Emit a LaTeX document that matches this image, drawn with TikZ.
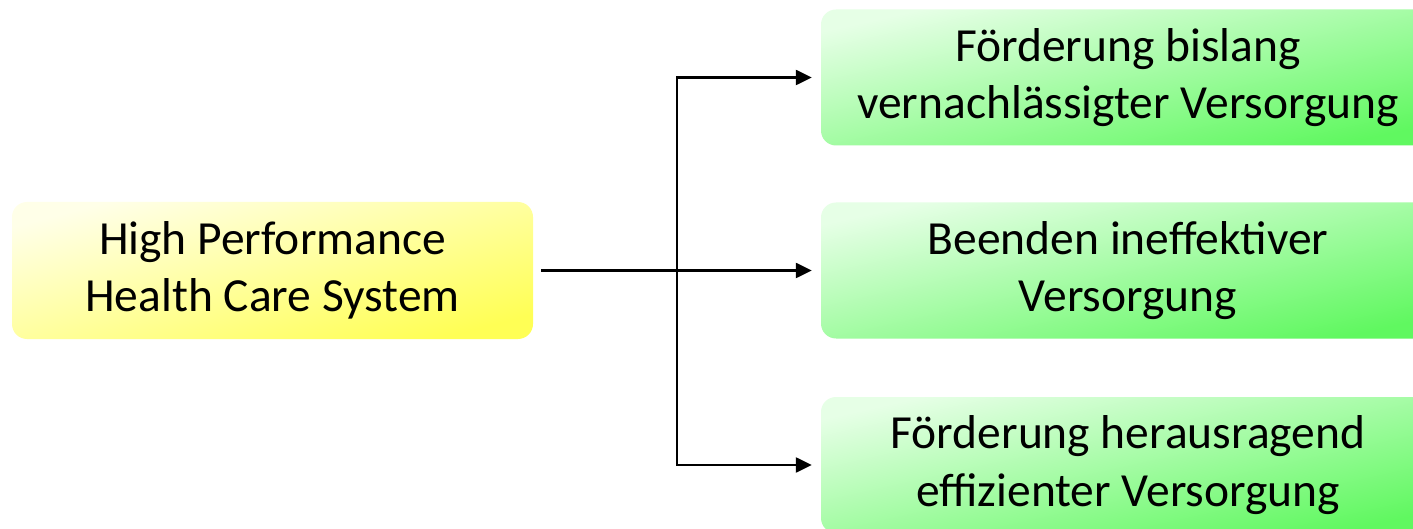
\documentclass[tikz,border=0pt]{standalone}
\usepackage{fontspec}
\setmainfont{Carlito}
\usetikzlibrary{arrows.meta}
\definecolor{ylight}{HTML}{FFFFE8}
\definecolor{ydark}{HTML}{FFFF55}
\definecolor{glight}{HTML}{E6FFE6}
\definecolor{gdark}{HTML}{60F860}
\tikzset{
  box/.style={rounded corners=15pt, inner sep=0pt, align=center,
    font=\fontsize{47.5}{57.5}\selectfont, shading=axis},
  ybox/.style={box, top color=ylight, bottom color=ydark, shading angle=14.7, minimum width=521pt, minimum height=137pt},
  gbox/.style={box, top color=glight, bottom color=gdark, shading angle=12.5, minimum width=614pt, minimum height=136pt},
  link/.style={line width=2.4pt},
  conn/.style={link, -{Triangle[length=16pt,width=15pt]}, shorten >=9pt},
}
\begin{document}
\begin{tikzpicture}[x=1pt,y=1pt]
\useasboundingbox (0,0) rectangle (1413,-529);
\clip (0,0) rectangle (1413,-529);
\fill[white] (0,0) rectangle (1413,-529);
\node[ybox] (hp) at (272.5,-270.5) {High Performance\\Health Care System};
\node[gbox] (b1) at (1128,-77.5) {Förderung bislang\\vernachlässigter Versorgung};
\node[gbox] (b2) at (1128,-270.5) {Beenden ineffektiver\\Versorgung};
\node[gbox] (b3) at (1128,-465) {Förderung herausragend\\effizienter Versorgung};
\coordinate (split) at (677,-270.5);
\draw[link, shorten <=8pt] (hp.east) -- (split);
\draw[conn] (split) |- (b1.west);
\draw[conn] (split) -- (b2.west);
\draw[conn] (split) |- (b3.west);
\end{tikzpicture}
\end{document}
